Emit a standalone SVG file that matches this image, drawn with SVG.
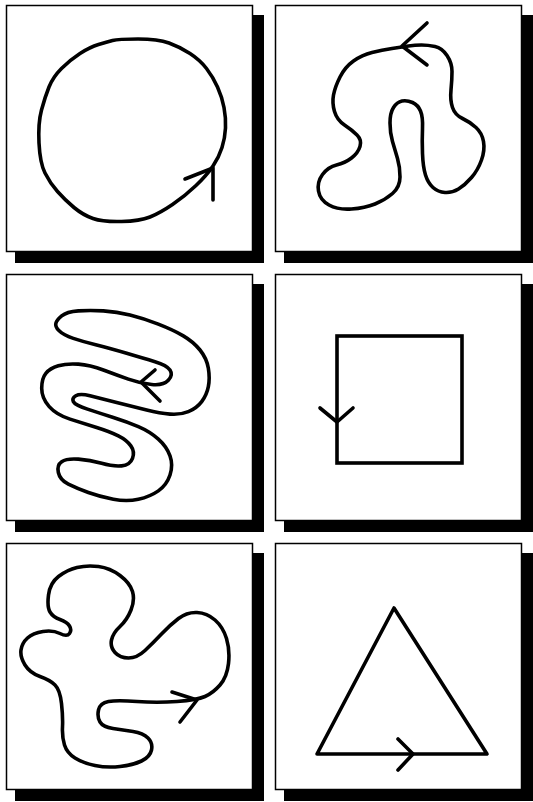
<svg xmlns="http://www.w3.org/2000/svg" width="533" height="802" viewBox="0 0 533 802">
<style>
.bg{fill:#fff}
.shadow{fill:#000}
.box{fill:#fff;stroke:#000;stroke-width:1.5}
.curve{fill:none;stroke:#000;stroke-width:3.6;stroke-linejoin:round;stroke-linecap:round}
.sharp{fill:none;stroke:#000;stroke-width:3.6;stroke-linejoin:miter;stroke-linecap:square}
</style>
<rect class="bg" x="0" y="0" width="533" height="802"/>
<g id="panel-circle">
<rect class="shadow" x="15" y="15" width="249" height="248"/>
<rect class="box" x="6.5" y="5.5" width="246" height="246"/>
<path class="curve" d="M112.5,40.5 Q118,39 138,39 Q158,39 169,43 Q180,47 190,53.5 Q200,60 206.5,68.5 Q213,77 217.5,87 Q222,97 224,107.5 Q226,118 225.5,128 Q225,138 222,147.5 Q219,157 213,166 Q207,175 196,185.5 Q185,196 172.5,204.5 Q160,213 150,217 Q140,221 121.5,221.5 Q103,222 93,218.5 Q83,215 74,207.5 Q65,200 57.5,191.5 Q50,183 45,173 Q40,163 39,143 Q38,123 41.5,110 Q45,97 49,87 Q53,77 61.5,68.5 Q70,60 80,53.5 Q90,47 98.5,44.5 Q107,42 112.5,40.5 Z"/>
<path class="curve" d="M185,179 L213,168 L213,200"/>
</g>
<g id="panel-blob">
<rect class="shadow" x="284" y="15" width="249" height="248"/>
<rect class="box" x="275.5" y="5.5" width="246" height="246"/>
<path class="curve" d="M408.5,46 Q402,47 392,48.5 Q382,50 372,52.5 Q362,55 353.5,61 Q345,67 340,77 Q335,87 333.5,95 Q332,103 334.5,111.5 Q337,120 344.5,125 Q352,130 357,135 Q362,140 360,146.5 Q358,153 351.5,158 Q345,163 336.5,165 Q328,167 322.5,174.5 Q317,182 318.5,191 Q320,200 329,205 Q338,210 351.5,209 Q365,208 375,204 Q385,200 392.5,193.5 Q400,187 400,177 Q400,167 397.5,158.5 Q395,150 392.5,141.5 Q390,133 390,123 Q390,113 393.5,107.5 Q397,102 402,101 Q407,100 412.5,102.5 Q418,105 420.5,111 Q423,117 422.5,128.5 Q422,140 422.5,153.5 Q423,167 425.5,175 Q428,183 433,187.5 Q438,192 445,192.5 Q452,193 458.5,189 Q465,185 471.5,177.5 Q478,170 481.5,160 Q485,150 483.5,141.5 Q482,133 476,127.5 Q470,122 462.5,118.5 Q455,115 452.5,107.5 Q450,100 451,90 Q452,80 452,71.5 Q452,63 447,55.5 Q442,48 435,46.5 Q428,45 421.5,45 Q415,45 408.5,46 Z"/>
<path class="curve" d="M427,23 L402,46 L427,65"/>
</g>
<g id="panel-snake">
<rect class="shadow" x="15" y="284" width="249" height="248"/>
<rect class="box" x="6.5" y="274.5" width="246" height="246"/>
<path class="curve" d="M55.85,323.35 Q56.7,320 61.7,315.85 Q66.7,311.7 78.35,310.85 Q90,310 103.35,310.85 Q116.7,311.7 130,315 Q143.3,318.3 158.3,324.15 Q173.3,330 183.3,335.85 Q193.3,341.7 200,350 Q206.7,358.3 208.35,368.3 Q210,378.3 208.35,386.65 Q206.7,395 201.7,401.65 Q196.7,408.3 188.35,411.65 Q180,415 170,414.15 Q160,413.3 146.65,410 Q133.3,406.7 116.65,402.5 Q100,398.3 90,395.8 Q80,393.3 75.85,395.8 Q71.7,398.3 73.35,401.65 Q75,405 87.5,409.15 Q100,413.3 113.35,417.5 Q126.7,421.7 138.35,426.7 Q150,431.7 158.35,439.2 Q166.7,446.7 170,455.85 Q173.3,465 170,475 Q166.7,485 158.35,490.85 Q150,496.7 138.35,499.2 Q126.7,501.7 113.35,499.2 Q100,496.7 88.35,492.5 Q76.7,488.3 68.35,484.15 Q60,480 58.35,472.5 Q56.7,465 61.7,461.65 Q66.7,458.3 78.35,459.15 Q90,460 101.65,463.35 Q113.3,466.7 121.65,465.85 Q130,465 132.5,458.35 Q135,451.7 130.85,445.85 Q126.7,440 118.35,435.85 Q110,431.7 96.65,427.5 Q83.3,423.3 70,419.15 Q56.7,415 49.2,406.650 Q41.7,398.3 41.7,388.3 Q41.7,378.3 45.85,373.3 Q50,368.3 58.35,365.8 Q66.7,363.3 78.35,364.15 Q90,365 103.35,370 Q116.7,375 128.35,379.15 Q140,383.3 151.65,384.5 Q163.3,385.7 168.3,380.35 Q173.3,375 170,370 Q166.7,365 155,361.65 Q143.3,358.3 126.65,353.3 Q110,348.3 96.65,345 Q83.3,341.7 73.3,338.35 Q63.3,335 59.15,330.85 Q55,326.7 55.85,323.35 Z"/>
<path class="curve" d="M155,370 L141,382 L160,401"/>
</g>
<g id="panel-square">
<rect class="shadow" x="284" y="284" width="249" height="248"/>
<rect class="box" x="275.5" y="274.5" width="246" height="246"/>
<rect class="sharp" x="337" y="336" width="125" height="127"/>
<path class="curve" d="M320,408 L337,422 L353,408"/>
</g>
<g id="panel-cloud">
<rect class="shadow" x="15" y="553" width="249" height="248"/>
<rect class="box" x="6.5" y="543.5" width="246" height="246"/>
<path class="curve" d="M205,696.5 Q197,700 177,701.5 Q157,703 137,701.5 Q117,700 108.5,701.5 Q100,703 98.5,710 Q97,717 100,722 Q103,727 113,728.5 Q123,730 133,731.5 Q143,733 148,738 Q153,743 151.5,750 Q150,757 141.5,761 Q133,765 120,766.5 Q107,768 95,765.5 Q83,763 75,758 Q67,753 64.5,745 Q62,737 62.5,727 Q63,717 61.5,703.5 Q60,690 55,685 Q50,680 40,676.5 Q30,673 25,665 Q20,657 21,650 Q22,643 27.5,638 Q33,633 43,631.5 Q53,630 60,633.5 Q67,637 69.5,633.5 Q72,630 69.5,626 Q67,622 60,619.5 Q53,617 50,612 Q47,607 48.5,595 Q50,583 58.5,576.5 Q67,570 77,567.5 Q87,565 98.5,566.5 Q110,568 120,575.5 Q130,583 132.5,591.5 Q135,600 131,610 Q127,620 120,626.5 Q113,633 111.5,640 Q110,647 115,652.5 Q120,658 128.5,658 Q137,658 145,650.5 Q153,643 161.5,634 Q170,625 178.5,618.5 Q187,612 197,612.5 Q207,613 215,620 Q223,627 226.5,638.5 Q230,650 228.5,663.5 Q227,677 220,685 Q213,693 205,696.5 Z"/>
<path class="curve" d="M172,692 L197,700 L180,722"/>
</g>
<g id="panel-triangle">
<rect class="shadow" x="284" y="553" width="249" height="248"/>
<rect class="box" x="275.5" y="543.5" width="246" height="246"/>
<path class="curve" d="M394,608 L487,754 L317,754 Z"/>
<path class="curve" d="M398,739 L413,754 L398,770"/>
</g>
</svg>
